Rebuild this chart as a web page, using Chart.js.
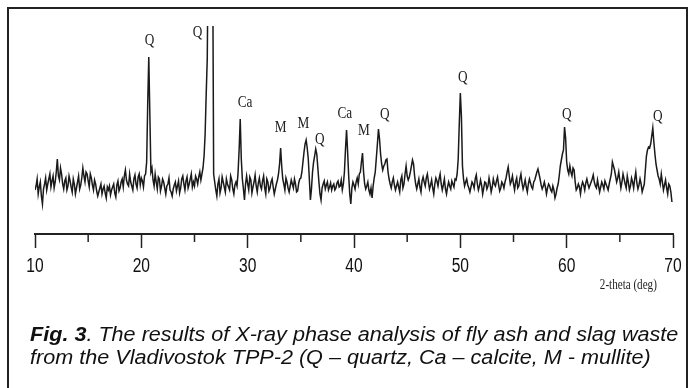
<!DOCTYPE html>
<html>
<head>
<meta charset="utf-8">
<script src="https://cdn.jsdelivr.net/npm/chart.js@4.4.0/dist/chart.umd.min.js"></script>
<style>
  html, body { margin: 0; padding: 0; background: #fff; }
  #wrap { position: relative; width: 694px; height: 388px; overflow: hidden; }
  #frame { position: absolute; left: 7px; top: 7px; width: 677px; height: 420px; border: 2px solid #222; }
  #myChart { position: absolute; left: 0; top: 0; }
  #caption { position: absolute; left: 30px; top: 323px; font-family: "Liberation Sans", Arial, sans-serif;
    font-style: italic; font-size: 20px; line-height: 23px; color: #111; white-space: nowrap;
    transform: scaleX(1.08); transform-origin: 0 0; }
</style>
</head>
<body>
<div id="wrap">
  <div id="frame"></div>
  <canvas id="myChart" width="694" height="388"></canvas>
  <div id="caption"><b>Fig. 3</b>. The results of X-ray phase analysis of fly ash and slag waste<br>from the Vladivostok TPP-2 (Q – quartz, Ca – calcite, M - mullite)</div>
</div>
<script>
// scan starts at 10.0 deg, one reading every 0.1 deg (10.0, 10.1 ... 69.9)
var angleStart = 10.0;
var angleStep = 0.1;
// intensity, one row per degree
var counts = [
  44, 48, 55, 40, 47, 52, 38, 30, 45, 50,      // 10
  56, 44, 50, 55, 60, 47, 53, 58, 46, 52,      // 11
  62, 75, 58, 54, 66, 60, 50, 45, 53, 56,      // 12
  44, 48, 58, 53, 47, 42, 55, 50, 40, 46,      // 13
  52, 58, 45, 49, 56, 66, 58, 52, 62, 60,      // 14
  53, 47, 60, 56, 49, 44, 54, 50, 43, 38,      // 15
  42, 46, 50, 40, 45, 48, 41, 36, 47, 44,      // 16
  48, 39, 44, 47, 50, 41, 37, 49, 53, 43,      // 17
  46, 52, 55, 47, 58, 64, 54, 50, 48, 60,      // 18
  52, 48, 44, 55, 59, 50, 46, 57, 60, 49,      // 19
  56, 53, 47, 58, 60, 72, 130, 177, 120, 62,   // 20
  66, 54, 48, 60, 52, 45, 57, 55, 43, 48,      // 21
  55, 52, 46, 40, 48, 50, 56, 44, 42, 38,      // 22
  45, 49, 52, 43, 48, 53, 41, 46, 55, 58,      // 23
  50, 44, 53, 57, 46, 50, 55, 60, 47, 52,      // 24
  48, 58, 55, 50, 57, 62, 54, 60, 66, 78,      // 25
  100, 140, 175, 300, 320, 330, 320, 300, 60, 52, // 26
  44, 38, 50, 55, 41, 46, 57, 52, 47, 42,      // 27
  55, 50, 47, 44, 58, 54, 45, 40, 49, 52,      // 28
  48, 62, 85, 115, 75, 55, 45, 34, 50, 58,     // 29
  50, 44, 57, 54, 41, 47, 52, 59, 48, 42,      // 30
  51, 56, 48, 45, 53, 58, 46, 40, 55, 52,      // 31
  43, 46, 52, 55, 47, 40, 45, 50, 54, 60,      // 32
  70, 86, 68, 55, 50, 44, 56, 52, 46, 42,      // 33
  48, 54, 50, 46, 55, 50, 42, 43, 51, 55,      // 34
  56, 62, 72, 82, 90, 94, 86, 75, 55, 34,      // 35
  45, 62, 72, 78, 85, 80, 66, 52, 40, 34,      // 36
  46, 50, 53, 45, 49, 52, 44, 47, 51, 44,      // 37
  48, 50, 44, 46, 51, 53, 47, 48, 54, 44,      // 38
  50, 62, 85, 104, 82, 58, 40, 30, 46, 52,     // 39
  49, 45, 52, 56, 50, 60, 62, 72, 81, 62,      // 40
  50, 45, 48, 52, 44, 40, 46, 36, 48, 56,      // 41
  62, 76, 90, 105, 95, 80, 70, 64, 68, 70,     // 42
  74, 75, 62, 55, 50, 46, 52, 56, 49, 44,      // 43
  48, 52, 47, 42, 54, 58, 46, 50, 60, 68,      // 44
  58, 54, 57, 62, 68, 74, 70, 58, 50, 45,      // 45
  50, 55, 47, 42, 53, 57, 52, 48, 56, 60,      // 46
  52, 45, 49, 54, 46, 40, 50, 56, 53, 48,      // 47
  55, 60, 50, 44, 49, 55, 45, 40, 47, 52,      // 48
  48, 45, 53, 50, 47, 55, 54, 60, 75, 110,     // 49
  141, 118, 68, 55, 48, 52, 55, 49, 46, 42,    // 50
  47, 52, 50, 46, 55, 59, 50, 44, 48, 54,      // 51
  49, 40, 46, 52, 51, 45, 48, 56, 50, 42,      // 52
  47, 55, 50, 48, 53, 57, 49, 43, 46, 52,      // 53
  50, 46, 52, 56, 62, 67, 58, 50, 53, 58,      // 54
  50, 44, 52, 56, 46, 48, 55, 60, 51, 45,      // 55
  49, 54, 47, 42, 50, 55, 51, 47, 45, 52,      // 56
  54, 58, 62, 65, 60, 55, 49, 45, 48, 52,      // 57
  47, 40, 46, 50, 48, 44, 42, 48, 44, 36,      // 58
  40, 46, 50, 58, 68, 74, 80, 84, 107, 96,     // 59
  72, 64, 60, 68, 62, 58, 66, 64, 52, 44,      // 60
  46, 50, 47, 40, 48, 52, 49, 44, 51, 55,      // 61
  50, 46, 49, 52, 55, 59, 52, 48, 46, 54,      // 62
  48, 42, 47, 52, 49, 45, 53, 50, 47, 44,      // 63
  50, 55, 60, 72, 68, 64, 58, 52, 56, 62,      // 64
  54, 46, 52, 60, 55, 50, 46, 58, 52, 44,      // 65
  48, 56, 52, 46, 55, 62, 51, 45, 49, 55,      // 66
  50, 42, 46, 50, 64, 78, 84, 87, 86, 90,      // 67
  98, 106, 92, 80, 70, 64, 58, 55, 50, 60,     // 68
  52, 44, 49, 54, 46, 40, 50, 48, 42, 32       // 69
];

// phase labels over the peaks
var peakLabels = ["Q", "Q", "Ca", "M", "M", "Q", "Ca", "M", "Q", "Q", "Q", "Q"];
var peakAngles = [20.77, 25.29, 29.76, 33.11, 35.23, 36.78, 39.13, 40.92, 42.9, 50.22, 60.01, 68.58];
var peakHeights = [193, 201, 131, 106, 110, 94, 120, 103, 119, 156, 119, 117];

var xTicks = [10, 20, 30, 40, 50, 60, 70];
var xMinorTicks = [15, 25, 35, 45, 55, 65];
var xTitle = "2-theta (deg)";

var points = [];
for (var i = 0; i < counts.length; i++) {
  points.push({ x: angleStart + i * angleStep, y: counts[i] });
}

// the scan is squeezed sideways, so the text is drawn narrowed
function squeezedText(ctx, text, x, y, sx) {
  ctx.save();
  ctx.translate(x, y);
  ctx.scale(sx, 1);
  ctx.fillText(text, 0, 0);
  ctx.restore();
}

var extras = {
  id: "extras",
  afterDraw: function (chart) {
    var ctx = chart.ctx;
    var xs = chart.scales.x;
    var ys = chart.scales.y;
    var bottom = chart.chartArea.bottom;
    ctx.save();
    // minor ticks
    ctx.strokeStyle = "#222";
    ctx.lineWidth = 1.5;
    for (var i = 0; i < xMinorTicks.length; i++) {
      var px = xs.getPixelForValue(xMinorTicks[i]);
      ctx.beginPath();
      ctx.moveTo(px, bottom);
      ctx.lineTo(px, bottom + 8);
      ctx.stroke();
    }
    ctx.fillStyle = "#111";
    ctx.textAlign = "center";
    ctx.textBaseline = "middle";
    // tick labels
    ctx.font = "20px 'Liberation Sans', Arial, sans-serif";
    xs.ticks.forEach(function (t) {
      squeezedText(ctx, String(t.value), xs.getPixelForValue(t.value), bottom + 32, 0.78);
    });
    // peak labels
    ctx.fillStyle = "#222";
    ctx.font = "17px 'Liberation Serif', 'Times New Roman', serif";
    for (var j = 0; j < peakLabels.length; j++) {
      squeezedText(ctx, peakLabels[j], xs.getPixelForValue(peakAngles[j]), ys.getPixelForValue(peakHeights[j]), 0.78);
    }
    // axis title
    ctx.font = "15px 'Liberation Serif', 'Times New Roman', serif";
    squeezedText(ctx, xTitle, xs.getPixelForValue(65.8), bottom + 51, 0.74);
    ctx.restore();
  }
};

var ctx = document.getElementById("myChart");
var myChart = new Chart(ctx, {
  type: "line",
  data: {
    datasets: [
      {
        data: points,
        borderColor: "#1a1a1a",
        borderWidth: 1.5,
        pointRadius: 0,
        tension: 0,
        fill: false
      }
    ]
  },
  options: {
    responsive: false,
    animation: false,
    layout: { padding: { left: 35, right: 21, top: 26, bottom: 140 } },
    plugins: { legend: { display: false }, tooltip: { enabled: false } },
    scales: {
      x: {
        type: "linear",
        min: 10,
        max: 70,
        afterBuildTicks: function (scale) {
          scale.ticks = xTicks.map(function (v) { return { value: v }; });
        },
        ticks: { display: false },
        grid: {
          drawOnChartArea: false,
          drawTicks: true,
          tickLength: 14,
          tickWidth: 1.5,
          tickColor: "#222"
        },
        border: { display: true, color: "#222", width: 2 }
      },
      y: {
        display: false,
        min: 0,
        max: 208
      }
    }
  },
  plugins: [extras]
});
</script>
</body>
</html>
